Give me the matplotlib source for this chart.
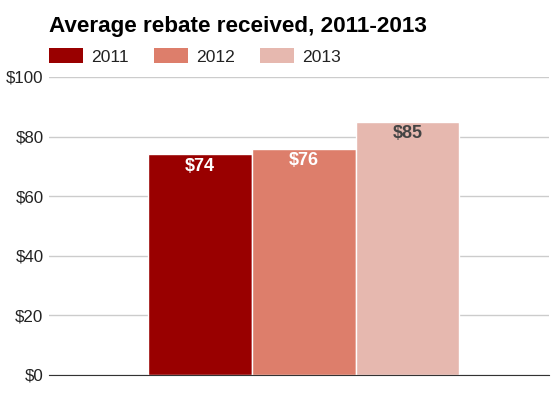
import matplotlib.pyplot as plt
from matplotlib.patches import Patch

years = ["2011", "2012", "2013"]
rebates = [74, 76, 85]
colors = ["#990000", "#dd7e6b", "#e6b8af"]
label_colors = ["white", "white", "#444444"]
yticks = [0, 20, 40, 60, 80, 100]

plt.rcParams['font.family'] = ['Liberation Sans', 'DejaVu Sans']

fig = plt.figure(figsize=(5.51, 3.98), dpi=100)
ax = fig.add_axes([49 / 551, 1 - 375 / 398, 500 / 551, (375 - 77) / 398])

x = list(range(len(years)))
bars = ax.bar(x, rebates, width=1.0, color=colors, edgecolor="white", linewidth=1, zorder=3)

for b, v, c in zip(bars, rebates, label_colors):
    ax.annotate(f"${v}", (b.get_x() + b.get_width() / 2, v), xytext=(0, -2.5),
                textcoords="offset points", ha="center", va="top",
                fontsize=13, fontweight="bold", color=c, zorder=4)

ax.set_xlim(-1.455, 3.365)
ax.set_ylim(0, 100)
ax.set_yticks(yticks)
ax.set_yticklabels([f"${t}" for t in yticks], fontsize=12.2, color="#222222")
ax.set_xticks([])
ax.tick_params(axis="y", length=0, pad=4)
ax.grid(axis="y", color="#cccccc", linewidth=1, zorder=0)
for s in ["top", "right", "left"]:
    ax.spines[s].set_visible(False)
ax.spines["bottom"].set_color("#333333")
ax.spines["bottom"].set_zorder(5)

fig.text(49 / 551, 1 - 32 / 398, "Average rebate received, 2011-2013", fontsize=16.2,
         fontweight="bold", va="baseline", ha="left", color="black")

handles = [Patch(facecolor=c, label=y) for c, y in zip(colors, years)]
fig.legend(handles=handles, loc="center left", bbox_to_anchor=(49 / 551, 1 - 56.5 / 398),
           ncol=3, frameon=False, fontsize=12.6, handlelength=1.94, handleheight=0.97,
           handletextpad=0.45, columnspacing=1.45, borderpad=0, borderaxespad=0,
           labelcolor="#222222")

fig.savefig("out.png", dpi=100)
